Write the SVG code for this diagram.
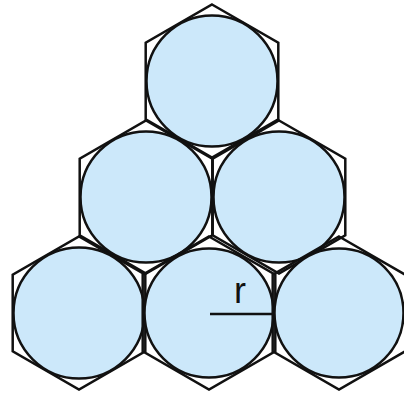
<svg xmlns="http://www.w3.org/2000/svg" width="404" height="399" viewBox="0 0 404 399">
<style>
.hex{fill:none;stroke:#111;stroke-width:2.5;stroke-linejoin:miter}
.c{fill:#cce8fa;stroke:#111;stroke-width:2.5}
.lbl{font-family:"Liberation Sans",Arial,sans-serif;font-size:36px;fill:#111}
.ln{stroke:#111;stroke-width:2.5}
</style>
<defs>
<polygon id="h" points="0,-76.5 66.3,-38.25 66.3,38.25 0,76.5 -66.3,38.25 -66.3,-38.25"/>
</defs>
<g id="cell-top"><use href="#h" class="hex" transform="translate(212,81)"/><circle class="c" cx="212" cy="81" r="65.5"/></g>
<g id="cell-mid-left"><use href="#h" class="hex" transform="translate(146,197)"/><circle class="c" cx="146" cy="197" r="65.5"/></g>
<g id="cell-mid-right"><use href="#h" class="hex" transform="translate(279,197)"/><circle class="c" cx="279" cy="197" r="65.5"/></g>
<g id="cell-bot-left"><use href="#h" class="hex" transform="translate(79,313)"/><circle class="c" cx="79" cy="313" r="65.5"/></g>
<g id="cell-bot-mid"><use href="#h" class="hex" transform="translate(209,313)"/><circle class="c" cx="209" cy="313" r="64.5"/></g>
<g id="cell-bot-right"><use href="#h" class="hex" transform="translate(339,313)"/><circle class="c" cx="339" cy="313" r="64.5"/></g>
<g id="connectors">
<line class="ln" x1="210" y1="314" x2="272" y2="314"/>
</g>
<text class="lbl" x="240" y="303" text-anchor="middle">r</text>
</svg>
